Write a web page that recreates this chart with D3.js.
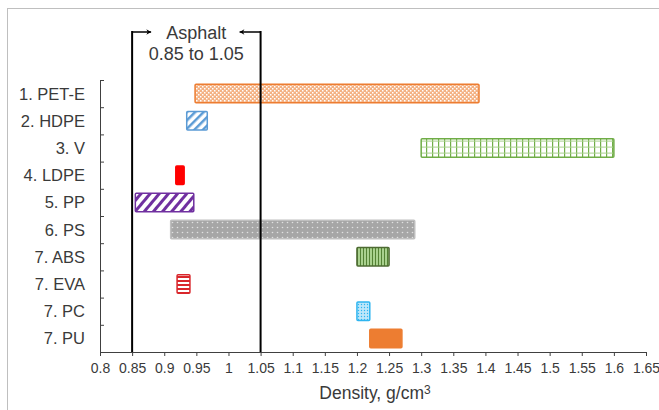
<!DOCTYPE html>
<html>
<head>
<meta charset="utf-8">
<script src="https://cdn.jsdelivr.net/npm/d3@7"></script>
<style>
  body { margin: 0; background: #fff; }
  text { font-family: "Liberation Sans", Arial, sans-serif; fill: #3a3a3a; }
  .axis path, .axis line { stroke: #404040; }
</style>
</head>
<body>
<script>
// data
const materials = ["1. PET-E", "2. HDPE", "3. V", "4. LDPE", "5. PP", "6. PS", "7. ABS", "7. EVA", "7. PC", "7. PU"];
const lowDensity  = [0.948, 0.935, 1.30, 0.918, 0.855, 0.91, 1.20, 0.92, 1.20, 1.22];
const highDensity = [1.39, 0.967, 1.60, 0.931, 0.946, 1.29, 1.25, 0.94, 1.22, 1.27];
const patterns    = ["pet", "hdpe", "v", "ldpe", "pp", "ps", "abs", "eva", "pc", "pu"];
const strokes     = ["#ED7D31", "#5B9BD5", "#70AD47", "#FF0000", "#7030A0", "#BFBFBF", "#4E6B33", "#D9262B", "#2FB5F0", "#ED7D31"];
const xTicks = [0.8, 0.85, 0.9, 0.95, 1, 1.05, 1.1, 1.15, 1.2, 1.25, 1.3, 1.35, 1.4, 1.45, 1.5, 1.55, 1.6, 1.65];
const asphalt = [0.85, 1.05];

const w = 659, h = 410;
const margin = {top: 80, right: 13, bottom: 58, left: 100};

const svg = d3.select("body").append("svg")
  .attr("width", w)
  .attr("height", h);

// outer frame
svg.append("rect")
  .attr("x", 7.5).attr("y", 8.5)
  .attr("width", w).attr("height", h)
  .attr("fill", "none")
  .attr("stroke", "#BFBFBF");

const defs = svg.append("defs");

// fill patterns
function pat(id, size, bg) {
  const p = defs.append("pattern")
    .attr("id", id)
    .attr("patternUnits", "userSpaceOnUse")
    .attr("width", size).attr("height", size);
  p.append("rect").attr("width", size).attr("height", size).attr("fill", bg);
  return p;
}
let p;
p = pat("pet", 4, "#F4B183");
p.append("rect").attr("x", 0).attr("y", 0).attr("width", 1.5).attr("height", 1.5).attr("fill", "#fff");
p.append("rect").attr("x", 2).attr("y", 2).attr("width", 1.5).attr("height", 1.5).attr("fill", "#fff");

p = pat("hdpe", 6, "#fff").attr("patternTransform", "rotate(45)");
p.append("rect").attr("width", 2.5).attr("height", 6).attr("fill", "#5B9BD5");

p = pat("v", 6, "#fff");
p.append("rect").attr("x", 0).attr("y", 0).attr("width", 1.2).attr("height", 6).attr("fill", "#70AD47");
p.append("rect").attr("x", 0).attr("y", 2.6).attr("width", 6).attr("height", 1).attr("fill", "#A9D18E");

p = pat("ldpe", 4, "#FF0000");

p = pat("pp", 7, "#fff").attr("patternTransform", "rotate(40)");
p.append("rect").attr("width", 3).attr("height", 7).attr("fill", "#7030A0");

p = pat("ps", 5, "#A6A6A6");
p.append("circle").attr("cx", 2.5).attr("cy", 2.5).attr("r", 0.8).attr("fill", "#E0E0E0");

p = pat("abs", 3, "#A9D18E");
p.append("rect").attr("width", 1).attr("height", 3).attr("fill", "#548235");

p = pat("eva", 4, "#fff");
p.append("rect").attr("width", 4).attr("height", 2).attr("fill", "#D9262B");

p = pat("pc", 3, "#BDE7FA");
p.append("circle").attr("cx", 1.5).attr("cy", 1.5).attr("r", 0.7).attr("fill", "#2FB5F0");

p = pat("pu", 4, "#ED7D31");

// arrow marker (open chevron)
defs.append("marker")
  .attr("id", "arrow")
  .attr("viewBox", "0 0 10 10")
  .attr("refX", 9).attr("refY", 5)
  .attr("markerWidth", 6).attr("markerHeight", 6)
  .attr("markerUnits", "userSpaceOnUse")
  .attr("orient", "auto")
  .append("path")
  .attr("d", "M1,0.5 L9,5 L1,9.5 L3.5,5 Z")
  .attr("fill", "#000");

// scales
const x = d3.scaleLinear()
  .domain([0.8, 1.65])
  .range([margin.left, w - margin.right]);

const y = d3.scaleBand()
  .domain(materials)
  .range([margin.top, h - margin.bottom]);

const yEdge = d3.scaleLinear()
  .domain([0, materials.length])
  .range([margin.top, h - margin.bottom]);

// bars
const barH = y.bandwidth() * 0.68;
svg.append("g")
  .selectAll("rect")
  .data(materials)
  .enter().append("rect")
  .attr("x", (d, i) => x(lowDensity[i]))
  .attr("y", d => y(d) + (y.bandwidth() - barH) / 2)
  .attr("width", (d, i) => x(highDensity[i]) - x(lowDensity[i]))
  .attr("height", barH)
  .attr("fill", (d, i) => `url(#${patterns[i]})`)
  .attr("stroke", (d, i) => strokes[i])
  .attr("stroke-width", 1.5)
  .attr("rx", 1);

// asphalt range lines
const topY = 32;
svg.append("g")
  .selectAll("line")
  .data(asphalt)
  .enter().append("line")
  .attr("x1", d => x(d)).attr("x2", d => x(d))
  .attr("y1", topY - 1).attr("y2", h - margin.bottom)
  .attr("stroke", "#000")
  .attr("stroke-width", 2);

svg.append("line")
  .attr("x1", x(asphalt[0])).attr("x2", x(asphalt[0]) + 19)
  .attr("y1", topY).attr("y2", topY)
  .attr("stroke", "#000").attr("stroke-width", 1.5)
  .attr("marker-end", "url(#arrow)");
svg.append("line")
  .attr("x1", x(asphalt[1])).attr("x2", x(asphalt[1]) - 21)
  .attr("y1", topY).attr("y2", topY)
  .attr("stroke", "#000").attr("stroke-width", 1.5)
  .attr("marker-end", "url(#arrow)");

const mid = (x(asphalt[0]) + x(asphalt[1])) / 2;
svg.append("text")
  .attr("x", mid).attr("y", 39)
  .attr("text-anchor", "middle")
  .style("font-size", "18px")
  .text("Asphalt");
svg.append("text")
  .attr("x", mid).attr("y", 60)
  .attr("text-anchor", "middle")
  .style("font-size", "18px")
  .text(`${asphalt[0]} to ${asphalt[1].toFixed(2)}`);

// x axis
svg.append("g")
  .attr("class", "axis")
  .attr("transform", `translate(0,${h - margin.bottom})`)
  .call(d3.axisBottom(x).tickValues(xTicks).tickSize(4).tickSizeOuter(0).tickFormat(d => String(d)))
  .call(g => g.selectAll("text").style("font-size", "14px").attr("dy", "0.98em"));

// y axis (ticks at category edges, pointing right)
svg.append("g")
  .attr("class", "axis")
  .attr("transform", `translate(${margin.left},0)`)
  .call(d3.axisRight(yEdge).ticks(materials.length).tickSize(4).tickSizeOuter(0).tickFormat(""));

svg.append("g")
  .selectAll("text")
  .data(materials)
  .enter().append("text")
  .attr("x", margin.left - 15)
  .attr("y", d => y(d) + y.bandwidth() / 2)
  .attr("dy", "0.36em")
  .attr("text-anchor", "end")
  .style("font-size", "16.5px")
  .text(d => d);

// axis title
const title = svg.append("text")
  .attr("x", (margin.left + w - margin.right) / 2 + 2)
  .attr("y", 399)
  .attr("text-anchor", "middle")
  .style("font-size", "17.5px")
  .text("Density, g/cm");
title.append("tspan")
  .attr("dy", "-0.4em")
  .style("font-size", "12px")
  .text("3");
</script>
</body>
</html>
